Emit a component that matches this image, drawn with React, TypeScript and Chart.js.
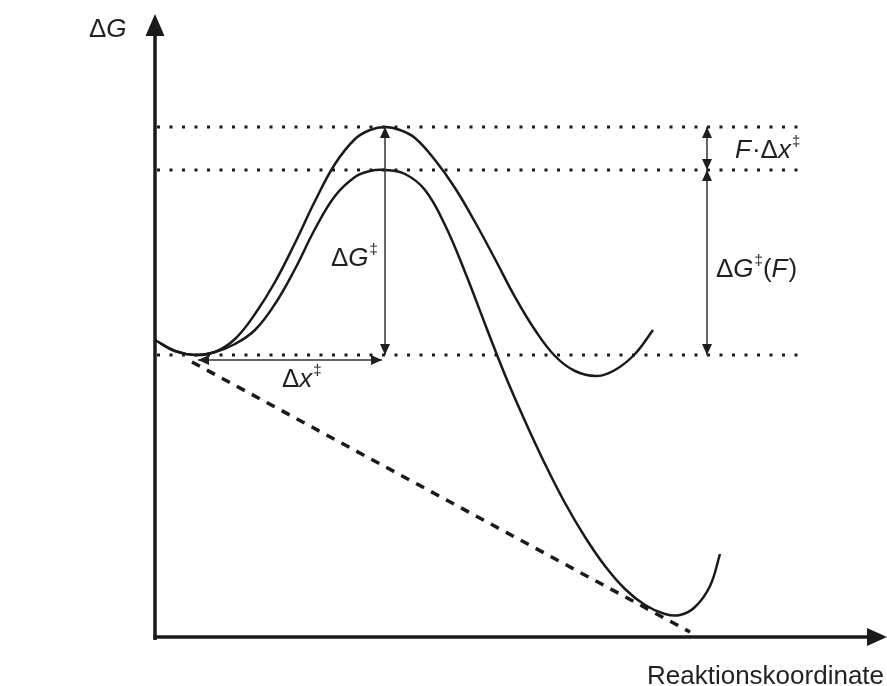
import { useEffect, useRef } from "react";
import { Chart, registerables } from "chart.js";

Chart.register(...registerables);

// Reaction coordinate (x) and free energy (G), drawing units (origin at the axes crossing)
const unloadedX = [0, 20, 40, 60, 80, 100, 120, 140, 160, 180, 200, 215, 230, 245, 260, 280, 300, 320, 340, 360, 380, 400, 420, 442, 460, 480, 498];
const unloadedG = [297, 286, 282, 285, 298, 323, 355, 394, 436, 473, 498, 507, 510, 507, 499, 477, 449, 415, 378, 340, 307, 281, 266, 261, 267, 283, 307];

const loadedX = [0, 20, 40, 60, 80, 100, 120, 140, 160, 180, 200, 215, 230, 250, 270, 290, 310, 330, 350, 370, 390, 410, 430, 450, 470, 490, 510, 525, 540, 555, 565];
const loadedG = [297, 286, 282, 285, 293, 307, 333, 368, 408, 441, 460, 466, 467, 463, 447, 412, 365, 313, 262, 216, 173, 134, 100, 71, 48, 32, 23, 22, 30, 51, 83];

const tiltX = [37, 535];
const tiltG = [275, 5];

const levelX = [2, 651];
const levelTS = 510;
const levelTSF = 467;
const levelMin = 282;

const axisXMax = 732;
const axisYMax = 623;

// double arrows: [x1, y1, x2, y2]
const arrowDG = [230, levelMin, 230, levelTS];
const arrowDx = [43, 277, 227, 277];
const arrowFDx = [552, levelTSF, 552, levelTS];
const arrowDGF = [552, levelMin, 552, levelTSF];

type Seg = { t: string; i?: boolean; sup?: boolean };
const labelTexts: Seg[][] = [
  [{ t: "Δ" }, { t: "G", i: true }],
  [{ t: "Δ" }, { t: "G", i: true }, { t: "‡", sup: true }],
  [{ t: "Δ" }, { t: "x", i: true }, { t: "‡", sup: true }],
  [{ t: "F", i: true }, { t: "·" }, { t: "Δ" }, { t: "x", i: true }, { t: "‡", sup: true }],
  [{ t: "Δ" }, { t: "G", i: true }, { t: "‡", sup: true }, { t: "(" }, { t: "F", i: true }, { t: ")" }],
  [{ t: "Reaktionskoordinate" }],
];
const labelX = [-66, 176, 127, 580, 561, 492];
const labelY = [600, 371, 250, 479, 360, -47];

const FONT = '"Liberation Sans", Arial, sans-serif';
const INK = "#1a1a1a";

function pts(xs: number[], ys: number[]) {
  return xs.map((x, k) => ({ x, y: ys[k] }));
}

function head(ctx: CanvasRenderingContext2D, tx: number, ty: number, dx: number, dy: number, len: number, hw: number) {
  const n = Math.hypot(dx, dy);
  const ux = dx / n, uy = dy / n;
  const bx = tx - ux * len, by = ty - uy * len;
  ctx.beginPath();
  ctx.moveTo(tx, ty);
  ctx.lineTo(bx - uy * hw, by + ux * hw);
  ctx.lineTo(bx + uy * hw, by - ux * hw);
  ctx.closePath();
  ctx.fill();
}

const overlay = {
  id: "overlay",
  afterDatasetsDraw(chart: any) {
    const ctx: CanvasRenderingContext2D = chart.ctx;
    const sx = chart.scales.x, sy = chart.scales.y;
    const px = (v: number) => sx.getPixelForValue(v);
    const py = (v: number) => sy.getPixelForValue(v);
    ctx.save();
    // axes
    ctx.strokeStyle = INK;
    ctx.fillStyle = INK;
    ctx.lineWidth = 3.5;
    ctx.beginPath();
    ctx.moveTo(px(0), py(-3));
    ctx.lineTo(px(0), py(axisYMax) + 18);
    ctx.stroke();
    head(ctx, px(0), py(axisYMax), 0, -1, 22, 9.5);
    ctx.beginPath();
    ctx.moveTo(px(0) - 1.5, py(0));
    ctx.lineTo(px(axisXMax) - 16, py(0));
    ctx.stroke();
    head(ctx, px(axisXMax), py(0), 1, 0, 20, 9);

    // double arrows
    ctx.strokeStyle = "#333";
    ctx.fillStyle = "#1f1f1f";
    ctx.lineWidth = 1.5;
    [arrowDG, arrowDx, arrowFDx, arrowDGF].forEach((a) => {
      const x1 = px(a[0]), y1 = py(a[1]), x2 = px(a[2]), y2 = py(a[3]);
      ctx.beginPath();
      ctx.moveTo(x1, y1);
      ctx.lineTo(x2, y2);
      ctx.stroke();
      head(ctx, x1, y1, x1 - x2, y1 - y2, 11, 5);
      head(ctx, x2, y2, x2 - x1, y2 - y1, 11, 5);
    });

    // labels
    ctx.fillStyle = "#231f20";
    ctx.textBaseline = "alphabetic";
    ctx.textAlign = "left";
    labelTexts.forEach((segs, k) => {
      let x = px(labelX[k]);
      const y = py(labelY[k]);
      segs.forEach((s) => {
        const size = s.sup ? 15 : 26;
        ctx.font = `${s.i ? "italic " : ""}${size}px ${FONT}`;
        ctx.fillText(s.t, x, s.sup ? y - 12 : y);
        x += ctx.measureText(s.t).width + (s.i ? 1 : 0);
      });
    });
    ctx.restore();
  },
};

export default function App() {
  const ref = useRef<HTMLCanvasElement | null>(null);
  useEffect(() => {
    if (!ref.current) return;
    const dotted = (y: number) => ({
      data: pts(levelX, [y, y]),
      borderColor: INK,
      borderWidth: 3,
      borderDash: [3, 9.5],
      borderCapStyle: "butt" as const,
      pointRadius: 0,
    });
    const chart = new Chart(ref.current, {
      type: "line",
      data: {
        datasets: [
          dotted(levelTS),
          dotted(levelTSF),
          dotted(levelMin),
          {
            data: pts(tiltX, tiltG),
            borderColor: INK,
            borderWidth: 3.5,
            borderDash: [9, 8],
            borderCapStyle: "butt",
            pointRadius: 0,
          },
          {
            data: pts(unloadedX, unloadedG),
            borderColor: INK,
            borderWidth: 2.5,
            tension: 0.4,
            pointRadius: 0,
          },
          {
            data: pts(loadedX, loadedG),
            borderColor: INK,
            borderWidth: 2.5,
            tension: 0.4,
            pointRadius: 0,
          },
        ],
      },
      options: {
        responsive: false,
        maintainAspectRatio: false,
        animation: false,
        devicePixelRatio: 1,
        layout: { padding: 0 },
        plugins: { legend: { display: false }, tooltip: { enabled: false } },
        scales: {
          x: { type: "linear", min: -155, max: 732, display: false },
          y: { type: "linear", min: -49, max: 637, display: false },
        },
      },
      plugins: [overlay],
    });
    return () => chart.destroy();
  }, []);
  return (
    <div style={{ position: "fixed", left: 0, top: 0, width: 887, height: 686, background: "#fff" }}>
      <canvas ref={ref} width={887} height={686} style={{ display: "block" }} />
    </div>
  );
}
